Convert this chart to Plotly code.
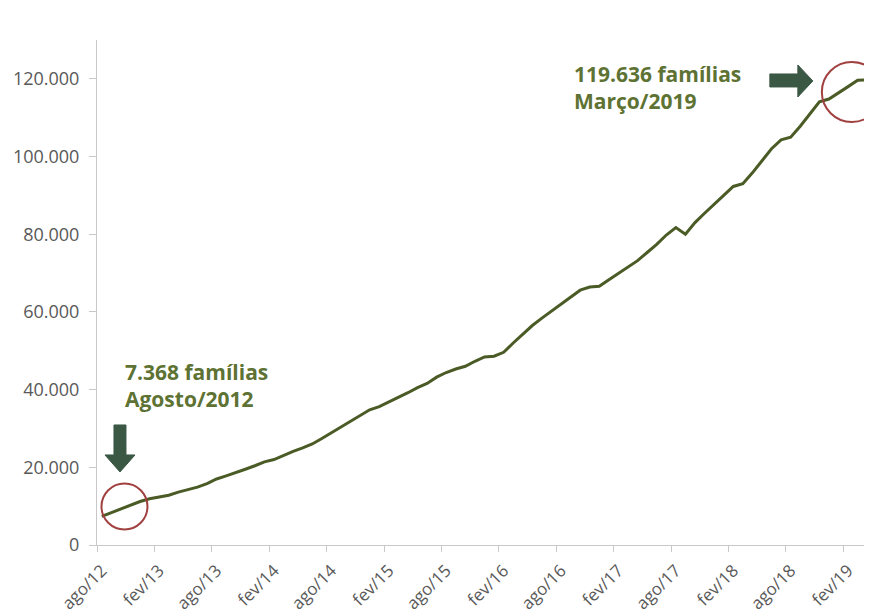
import plotly.graph_objects as go

# Monthly number of families, ago/12 .. abr/19
familias = [7368, 8300, 9400, 10300, 11200, 11900, 12400, 12800, 13600, 14200,
            14900, 15800, 17000, 17800, 18600, 19500, 20400, 21400, 22000, 23100,
            24100, 25000, 26000, 27400, 28900, 30500, 31800, 33500, 34800, 35600,
            36800, 37800, 39200, 40500, 41600, 43200, 44400, 45300, 46000, 47300,
            48400, 48600, 49600, 52000, 54200, 56500, 58400, 60200, 61900, 63800,
            65600, 66400, 66600, 68300, 69900, 71400, 73200, 75300, 77400, 79800,
            81700, 80000, 83000, 85400, 87600, 90000, 92300, 93000, 95800, 99000,
            102000, 104300, 105000, 107800, 110900, 114100, 114800, 116300, 118000, 119636,
            119700]
meses_idx = list(range(len(familias)))

tick_labels = ["ago/12", "fev/13", "ago/13", "fev/14", "ago/14", "fev/15", "ago/15",
               "fev/16", "ago/16", "fev/17", "ago/17", "fev/18", "ago/18", "fev/19"]
tick_step = 6
y_ticks = [0, 20000, 40000, 60000, 80000, 100000, 120000]

i_ini, i_fim = 0, 79  # annotated points (Agosto/2012, Março/2019)

line_col = "#4b5b26"
text_col = "#5d7233"
arrow_col = "#3b5845"
circle_col = "#a0403f"
axis_col = "#c8c8c8"
lab_col = "#595959"

fig = go.Figure()
fig.add_trace(go.Scatter(x=meses_idx, y=familias, mode="lines",
                         line=dict(color=line_col, width=3), hoverinfo="skip",
                         showlegend=False))

# page body has an 8px margin: figure is 864x608 so it fills the 872x616 window
fig.update_layout(
    width=864, height=608,
    margin=dict(l=89, r=0, t=32, b=71),
    paper_bgcolor="white", plot_bgcolor="white",
    separators=",.",
    font=dict(family="Open Sans", color=lab_col),
)
fig.update_xaxes(
    range=[-0.5, len(familias) - 0.5],
    automargin=False,
    tickmode="array",
    tickvals=meses_idx[::tick_step][:len(tick_labels)],
    ticktext=tick_labels,
    tickangle=-45,
    tickfont=dict(size=17, color=lab_col, family="Open Sans"),
    ticks="outside", ticklen=8, tickcolor="rgba(0,0,0,0)",
    minor=dict(tickmode="linear", tick0=-0.5, dtick=tick_step, ticks="outside",
               ticklen=6, tickcolor=axis_col, tickwidth=1, showgrid=False),
    showline=True, linecolor=axis_col, linewidth=1,
    showgrid=False, zeroline=False,
)
fig.update_yaxes(
    range=[0, 130000],
    automargin=False,
    tickmode="array", tickvals=y_ticks, tickformat=",d",
    tickfont=dict(size=18, color=lab_col, family="Open Sans"),
    ticks="outside", ticklen=7, tickcolor=axis_col,
    ticklabelstandoff=6,
    showline=True, linecolor=axis_col, linewidth=1,
    showgrid=False, zeroline=False,
)

# circles around start and end points
fig.add_shape(type="circle", xref="x", yref="y", xsizemode="pixel", ysizemode="pixel",
              xanchor=meses_idx[i_ini], yanchor=familias[i_ini],
              x0=-0.3, x1=45.7, y0=-13.1, y1=32.9,
              line=dict(color=circle_col, width=2))
fig.add_shape(type="circle", xref="x", yref="y", xsizemode="pixel", ysizemode="pixel",
              xanchor=meses_idx[i_fim], yanchor=familias[i_fim],
              x0=-35.8, x1=24.2, y0=-41.7, y1=18.3,
              line=dict(color=circle_col, width=2))

# block arrows
fig.add_shape(type="path", xref="x", yref="y", xsizemode="pixel", ysizemode="pixel",
              xanchor=meses_idx[i_ini], yanchor=familias[i_ini],
              path="M 12.2,91.4 L 24.2,91.4 L 24.2,61.4 L 33.2,61.4 L 18.2,44.4 L 3.2,61.4 L 12.2,61.4 Z",
              fillcolor=arrow_col, line=dict(color=arrow_col, width=1))
fig.add_shape(type="path", xref="x", yref="y", xsizemode="pixel", ysizemode="pixel",
              xanchor=meses_idx[i_fim], yanchor=familias[i_fim],
              path="M -87.8,6.3 L -59.8,6.3 L -59.8,15.3 L -44.8,-0.7 L -59.8,-16.7 L -59.8,-6.7 L -87.8,-6.7 Z",
              fillcolor=arrow_col, line=dict(color=arrow_col, width=1))

fig.add_annotation(x=meses_idx[i_ini], y=familias[i_ini], xref="x", yref="y",
                   text="7.368 famílias<br>Agosto/2012", showarrow=False,
                   xanchor="left", yanchor="middle", align="left",
                   xshift=21, yshift=131,
                   font=dict(family="Open Sans", size=21, color=text_col, weight="bold"))
fig.add_annotation(x=meses_idx[i_fim], y=familias[i_fim], xref="x", yref="y",
                   text="119.636 famílias<br>Março/2019", showarrow=False,
                   xanchor="left", yanchor="middle", align="left",
                   xshift=-286, yshift=-7,
                   font=dict(family="Open Sans", size=21, color=text_col, weight="bold"))

fig.write_html("out.html")
